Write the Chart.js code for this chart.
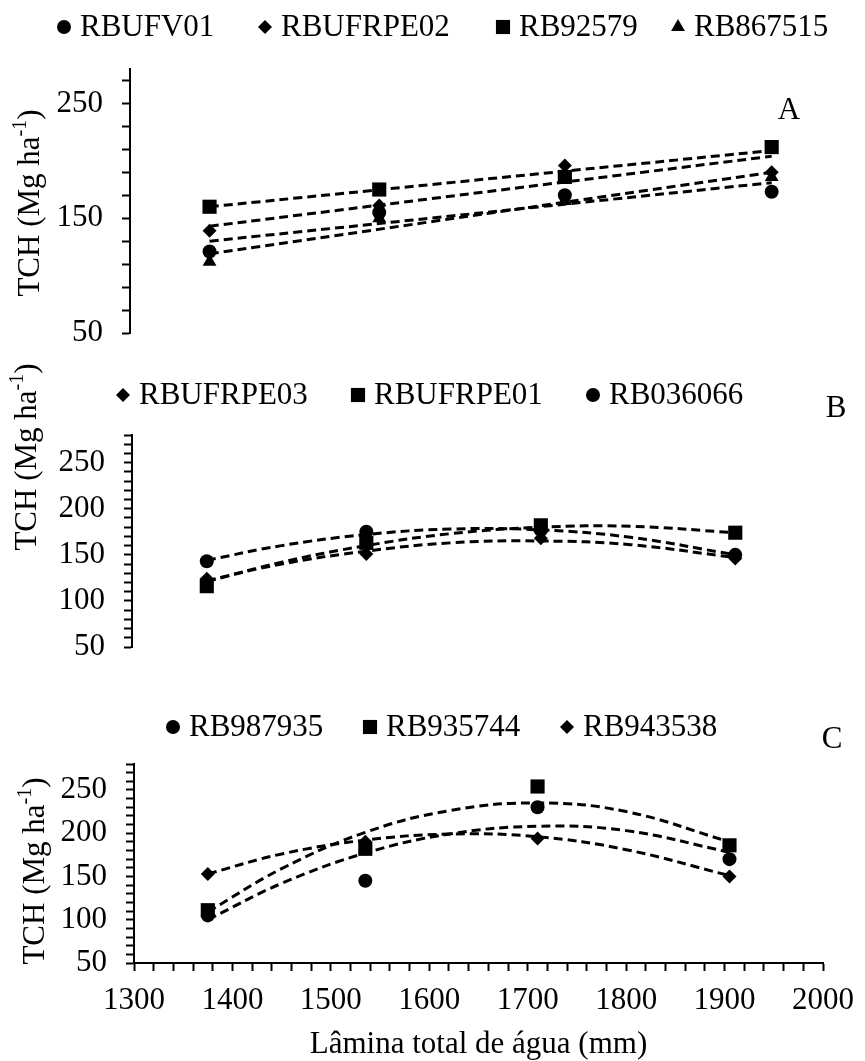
<!DOCTYPE html>
<html>
<head>
<meta charset="utf-8">
<title>TCH x Lâmina total de água</title>
<script src="https://cdn.jsdelivr.net/npm/chart.js@4.4.0/dist/chart.umd.min.js"></script>
<style>
  body { margin: 0; background: #fff; }
  #wrap { position: relative; width: 865px; height: 1061px; }
  #wrap canvas { position: absolute; left: 0; top: 0; }
</style>
</head>
<body>
<div id="wrap">
  <canvas id="chart-a" width="865" height="1061"></canvas>
  <canvas id="chart-b" width="865" height="1061"></canvas>
  <canvas id="chart-c" width="865" height="1061"></canvas>
</div>
<script>
// lâminas aplicadas (mm)
const lamina = [1375, 1535, 1710, 1905];
const trendXLin = [1375, 1905];
const trendXQuad = [1375, 1450, 1535, 1620, 1710, 1800, 1905];

// A - ajuste linear
const aNames = ["RBUFV01", "RBUFRPE02", "RB92579", "RB867515"];
const aRBUFV01 = [121, 155, 170, 173];
const aRBUFRPE02 = [139, 161, 196, 190];
const aRB92579 = [160, 175, 186, 212];
const aRB867515 = [112, 150, 165, 186];
const aTrendRBUFV01 = [130, 181];
const aTrendRBUFRPE02 = [143, 204];
const aTrendRB92579 = [160, 209];
const aTrendRB867515 = [119, 190];

// B - ajuste quadratico
const bNames = ["RBUFRPE03", "RBUFRPE01", "RB036066"];
const bRBUFRPE03 = [124, 151, 168, 146];
const bRBUFRPE01 = [116, 163, 182, 174];
const bRB036066 = [143, 175, 177, 150];
const bTrendRBUFRPE03 = [122, 140, 154, 163, 165, 161, 147];
const bTrendRBUFRPE01 = [121, 142, 160, 173, 180, 181, 174];
const bTrendRB036066 = [144, 160, 172, 178, 177, 169, 150];

// C - ajuste quadratico
const cNames = ["RB987935", "RB935744", "RB943538"];
const cRB987935 = [105, 145, 230, 170];
const cRB935744 = [111, 182, 254, 186];
const cRB943538 = [153, 190, 194, 150];
const cTrendRB987935 = [100, 142, 177, 199, 208, 203, 178];
const cTrendRB935744 = [109, 159, 201, 226, 235, 225, 190];
const cTrendRB943538 = [153, 176, 192, 199, 196, 181, 151];

// eixos
const yTicksA = [50, 70, 90, 110, 130, 150, 170, 190, 210, 230, 250, 270];
const yLabelsA = [50, 150, 250];
const yTicksBC = [];
for (let v = 50; v <= 280; v += 10) {
  yTicksBC.push(v);
}
const yLabelsBC = [50, 100, 150, 200, 250];
const xTicks = [];
for (let v = 1300; v <= 2000; v += 20) {
  xTicks.push(v);
}
const xLabels = [1300, 1400, 1500, 1600, 1700, 1800, 1900, 2000];

const serif = "'Liberation Serif', 'Times New Roman', serif";
Chart.defaults.font.family = serif;
Chart.defaults.color = "#000";

const markers = {
  circle: { pointStyle: "circle", radius: 7 },
  diamond: { pointStyle: "rectRot", radius: 7 },
  square: { pointStyle: "rect", radius: 10 },
  triangle: { pointStyle: "triangle", radius: 8 },
};

function pointSet(label, xs, ys, marker) {
  return {
    label: label,
    data: xs.map((x, i) => ({ x: x, y: ys[i] })),
    showLine: false,
    pointStyle: markers[marker].pointStyle,
    pointRadius: markers[marker].radius,
    pointBackgroundColor: "#000",
    pointBorderWidth: 0,
    marker: marker,
  };
}

function trendSet(xs, ys) {
  return {
    label: "",
    data: xs.map((x, i) => ({ x: x, y: ys[i] })),
    showLine: true,
    pointRadius: 0,
    borderColor: "#000",
    borderWidth: 3,
    borderDash: [9, 5],
    tension: 0.4,
  };
}

function drawYTitle(ctx, cx, cy) {
  const big = "31px " + serif;
  const small = "20px " + serif;
  ctx.save();
  ctx.translate(cx, cy);
  ctx.rotate(-Math.PI / 2);
  ctx.textBaseline = "middle";
  ctx.textAlign = "left";
  ctx.font = big;
  const w1 = ctx.measureText("TCH (Mg ha").width;
  const w3 = ctx.measureText(")").width;
  ctx.font = small;
  const w2 = ctx.measureText("-1").width;
  let x = -(w1 + w2 + w3) / 2;
  ctx.font = big;
  ctx.fillText("TCH (Mg ha", x, 0);
  x += w1;
  ctx.font = small;
  ctx.fillText("-1", x, -10);
  x += w2;
  ctx.font = big;
  ctx.fillText(")", x, 0);
  ctx.restore();
}

// legenda, letra do painel e titulo do eixo y
const panelText = {
  id: "panelText",
  afterDraw(chart, args, opts) {
    const ctx = chart.ctx;
    ctx.save();
    ctx.fillStyle = "#000";
    const pointSets = chart.data.datasets.filter((d) => d.marker);
    pointSets.forEach((d, i) => {
      const x = opts.legendX[i];
      Chart.helpers.drawPoint(
        ctx,
        { pointStyle: markers[d.marker].pointStyle, radius: markers[d.marker].radius, borderWidth: 0, rotation: 0 },
        x,
        opts.legendY
      );
      ctx.font = "31px " + serif;
      ctx.textBaseline = "middle";
      ctx.textAlign = "left";
      ctx.fillText(d.label, x + 16, opts.legendY + 1);
    });
    ctx.font = "31px " + serif;
    ctx.textAlign = "center";
    ctx.fillText(opts.letter, opts.letterX, opts.letterY);
    ctx.restore();
    drawYTitle(ctx, opts.titleX, opts.titleY);
  },
};

function makeChart(id, datasets, opt) {
  const ctx = document.getElementById(id).getContext("2d");
  return new Chart(ctx, {
    type: "scatter",
    data: { datasets: datasets },
    options: {
      responsive: false,
      animation: false,
      layout: {
        padding: { left: 0, right: 35, top: opt.top, bottom: opt.bottom },
      },
      plugins: {
        legend: { display: false },
        tooltip: { enabled: false },
        panelText: opt.text,
      },
      scales: {
        x: {
          type: "linear",
          min: 1300,
          max: opt.xMax,
          display: opt.showX,
          afterFit: (scale) => {
            if (opt.showX) scale.height = opt.xHeight;
          },
          afterBuildTicks: (scale) => {
            scale.ticks = xTicks.map((v) => ({ value: v }));
          },
          border: { display: true, color: "#000", width: 2 },
          grid: {
            drawOnChartArea: false,
            drawTicks: true,
            tickLength: 8,
            tickWidth: 2,
            tickColor: "#000",
          },
          ticks: {
            autoSkip: false,
            maxRotation: 0,
            padding: 11,
            font: { size: 31 },
            callback: (v) => (xLabels.includes(v) ? v : ""),
          },
          title: {
            display: opt.showX,
            text: "Lâmina total de água (mm)",
            font: { size: 31 },
            padding: { top: 0, bottom: -2 },
          },
        },
        y: {
          min: 50,
          max: 280,
          afterFit: (scale) => {
            scale.width = opt.yWidth;
          },
          afterBuildTicks: (scale) => {
            scale.ticks = opt.yTicks.map((v) => ({ value: v }));
          },
          border: { display: true, color: "#000", width: 2 },
          grid: {
            drawOnChartArea: false,
            drawTicks: true,
            tickLength: 8,
            tickWidth: 2,
            tickColor: "#000",
          },
          ticks: {
            autoSkip: false,
            padding: 19,
            font: { size: 31 },
            callback: (v) => (opt.yLabels.includes(v) ? v : ""),
          },
        },
      },
    },
    plugins: [panelText],
  });
}

makeChart(
  "chart-a",
  [
    trendSet(trendXLin, aTrendRBUFV01),
    trendSet(trendXLin, aTrendRBUFRPE02),
    trendSet(trendXLin, aTrendRB92579),
    trendSet(trendXLin, aTrendRB867515),
    pointSet(aNames[0], lamina, aRBUFV01, "circle"),
    pointSet(aNames[1], lamina, aRBUFRPE02, "diamond"),
    pointSet(aNames[2], lamina, aRB92579, "square"),
    pointSet(aNames[3], lamina, aRB867515, "triangle"),
  ],
  {
    top: 69,
    bottom: 728,
    xMax: 1960,
    showX: false,
    yWidth: 130,
    yTicks: yTicksA,
    yLabels: yLabelsA,
    text: {
      legendY: 27,
      legendX: [64, 265, 503, 678],
      letter: "A",
      letterX: 789,
      letterY: 111,
      titleX: 31,
      titleY: 203,
    },
  }
);

makeChart(
  "chart-b",
  [
    trendSet(trendXQuad, bTrendRBUFRPE03),
    trendSet(trendXQuad, bTrendRBUFRPE01),
    trendSet(trendXQuad, bTrendRB036066),
    pointSet(bNames[0], lamina, bRBUFRPE03, "diamond"),
    pointSet(bNames[1], lamina, bRBUFRPE01, "square"),
    pointSet(bNames[2], lamina, bRB036066, "circle"),
  ],
  {
    top: 435,
    bottom: 414,
    xMax: 2000,
    showX: false,
    yWidth: 132,
    yTicks: yTicksBC,
    yLabels: yLabelsBC,
    text: {
      legendY: 395,
      legendX: [123, 358, 593],
      letter: "B",
      letterX: 836,
      letterY: 409,
      titleX: 28,
      titleY: 457,
    },
  }
);

makeChart(
  "chart-c",
  [
    trendSet(trendXQuad, cTrendRB987935),
    trendSet(trendXQuad, cTrendRB935744),
    trendSet(trendXQuad, cTrendRB943538),
    pointSet(cNames[0], lamina, cRB987935, "circle"),
    pointSet(cNames[1], lamina, cRB935744, "square"),
    pointSet(cNames[2], lamina, cRB943538, "diamond"),
  ],
  {
    top: 764,
    bottom: 0,
    xMax: 2000,
    showX: true,
    xHeight: 98,
    yWidth: 134,
    yTicks: yTicksBC,
    yLabels: yLabelsBC,
    text: {
      legendY: 727,
      legendX: [173, 370, 567],
      letter: "C",
      letterX: 832,
      letterY: 740,
      titleX: 36,
      titleY: 871,
    },
  }
);
</script>
</body>
</html>
